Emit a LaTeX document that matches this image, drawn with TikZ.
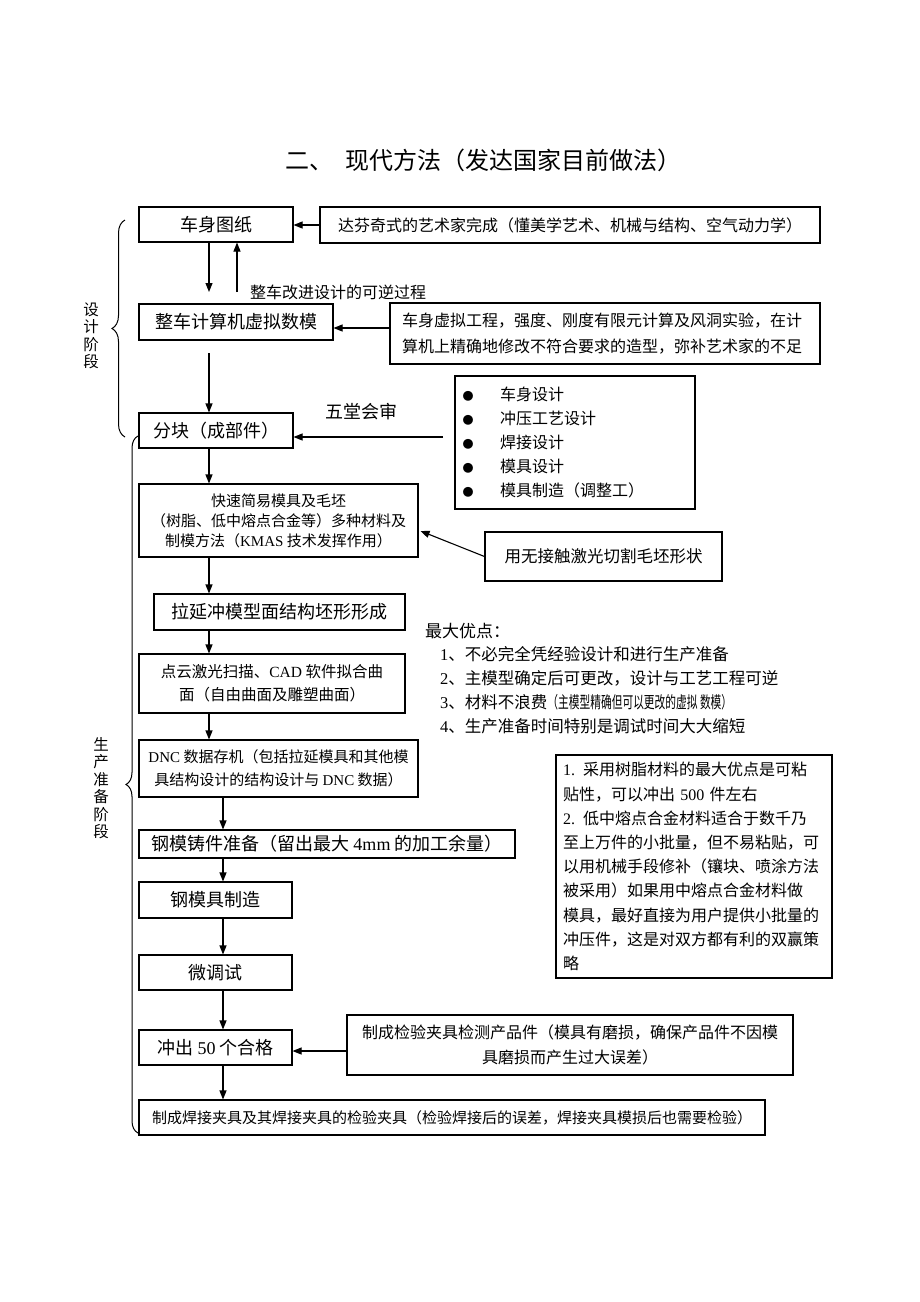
\documentclass[tikz,border=0pt]{standalone}
\usepackage{fontspec}
\usepackage{graphicx}
\setmainfont{Noto Sans CJK SC}
\newfontfamily\lat{Liberation Serif}
\newcommand\bul{\makebox[16pt][c]{\fontsize{11}{11}\selectfont ●}}
\usetikzlibrary{arrows.meta,decorations.pathreplacing,calc}
\begin{document}
\begin{tikzpicture}[x=1pt,y=-1pt,
  box/.style={draw, line width=1.1pt, inner sep=0pt, align=center},
  arr/.style={line width=1.1pt, -{Triangle[length=9pt,width=7pt]}},
  brc/.style={line width=1pt, decorate, decoration={brace}},
  plain/.style={inner sep=0pt}]
\fill[white] (0,0) rectangle (920,1302);
\useasboundingbox (0,0) rectangle (920,1302);

% title
\node[plain, anchor=west, font=\fontsize{24}{28}\selectfont] (title) at (285,160) {二、\hspace{12pt}现代方法（发达国家目前做法）};

% design stage
\node[box, minimum width=154pt, minimum height=35pt, font=\fontsize{18}{22}\selectfont] (b1) at (216,224.5) {车身图纸};
\node[box, minimum width=500pt, minimum height=36pt, font=\fontsize{16}{20}\selectfont] (n1) at (570,225) {达芬奇式的艺术家完成（懂美学艺术、机械与结构、空气动力学）};
\node[box, minimum width=194pt, minimum height=36pt, font=\fontsize{18}{22}\selectfont] (b2) at (236,322) {整车计算机虚拟数模};
\node[box, minimum width=430pt, minimum height=61pt, text width=406pt, align=left, font=\fontsize{16}{26}\selectfont] (n2) at (605,333.5) {车身虚拟工程，强度、刚度有限元计算及风洞实验，在计\\算机上精确地修改不符合要求的造型，弥补艺术家的不足};
\node[plain, anchor=west, font=\fontsize{16}{20}\selectfont] (rev) at (250,292) {整车改进设计的可逆过程};
\node[box, minimum width=154pt, minimum height=35pt, font=\fontsize{18}{22}\selectfont] (b3) at (216,430.5) {分块（成部件）};
\node[plain, font=\fontsize{18}{22}\selectfont] (wt) at (361,412) {五堂会审};
\node[box, minimum width=240pt, minimum height=133pt, text width=230pt, align=left, font=\fontsize{16}{24}\selectfont] (lst) at (575,442.5)
  {\bul\hspace{24pt}车身设计\\\bul\hspace{24pt}冲压工艺设计\\\bul\hspace{24pt}焊接设计\\\bul\hspace{24pt}模具设计\\\bul\hspace{24pt}模具制造（调整工）};

% production stage
\node[box, minimum width=279pt, minimum height=73pt, font=\fontsize{15}{20}\selectfont] (b4) at (278.5,520.5)
  {快速简易模具及毛坯\\（树脂、低中熔点合金等）多种材料及\\制模方法（{\lat KMAS} 技术发挥作用）};
\node[box, minimum width=237pt, minimum height=49pt, font=\fontsize{16.5}{20}\selectfont] (n4) at (603.5,556.5) {用无接触激光切割毛坯形状};
\node[box, minimum width=251pt, minimum height=36pt, font=\fontsize{18}{22}\selectfont] (b5) at (279.5,612) {拉延冲模型面结构坯形形成};
\node[box, minimum width=266pt, minimum height=59pt, font=\fontsize{15.5}{23}\selectfont] (b6) at (272,683.5)
  {点云激光扫描、{\lat CAD} 软件拟合曲\\面（自由曲面及雕塑曲面）};
\node[box, minimum width=279pt, minimum height=57pt, font=\fontsize{15}{23}\selectfont] (b7) at (278.5,768.5)
  {{\lat DNC} 数据存机（包括拉延模具和其他模\\具结构设计的结构设计与 {\lat DNC} 数据）};
\node[box, minimum width=376pt, minimum height=28pt, font=\fontsize{18}{22}\selectfont] (b8) at (327,844) {钢模铸件准备（留出最大 {\lat 4mm} 的加工余量）};
\node[box, minimum width=153pt, minimum height=36pt, font=\fontsize{18}{22}\selectfont] (b9) at (215.5,900) {钢模具制造};
\node[box, minimum width=153pt, minimum height=35pt, font=\fontsize{18}{22}\selectfont] (b10) at (215.5,972.5) {微调试};
\node[box, minimum width=153pt, minimum height=35pt, font=\fontsize{18}{22}\selectfont] (b11) at (215.5,1047.5) {冲出 {\lat 50} 个合格};
\node[box, minimum width=446pt, minimum height=60pt, font=\fontsize{16}{25}\selectfont] (n11) at (570,1045)
  {制成检验夹具检测产品件（模具有磨损，确保产品件不因模\\具磨损而产生过大误差）};
\node[box, minimum width=626pt, minimum height=35pt, font=\fontsize{15}{20}\selectfont] (b12) at (452,1117.5)
  {制成焊接夹具及其焊接夹具的检验夹具（检验焊接后的误差，焊接夹具模损后也需要检验）};

% advantages
\node[plain, anchor=west, font=\fontsize{17}{20}\selectfont] (adv) at (425,631) {最大优点：};
\node[plain, anchor=west, font=\fontsize{16.5}{20}\selectfont] (a1) at (440,654) {{\lat 1}、不必完全凭经验设计和进行生产准备};
\node[plain, anchor=west, font=\fontsize{16.5}{20}\selectfont] (a2) at (440,678) {{\lat 2}、主模型确定后可更改，设计与工艺工程可逆};
\node[plain, anchor=west, font=\fontsize{16.5}{20}\selectfont] (a3) at (440,702) {{\lat 3}、材料不浪费\scalebox{0.65}[1]{（主模型精确但可以更改的虚拟 数模）}};
\node[plain, anchor=west, font=\fontsize{16.5}{20}\selectfont] (a4) at (440,726) {{\lat 4}、生产准备时间特别是调试时间大大缩短};

% note
\node[box, minimum width=276pt, minimum height=223pt, text width=262pt, align=left, font=\fontsize{16}{24.2}\selectfont] (note) at (694,866.5)
  {{\lat 1.} 采用树脂材料的最大优点是可粘\\
   贴性，可以冲出 {\lat 500} 件左右\\
   {\lat 2.} 低中熔点合金材料适合于数千乃\\
   至上万件的小批量，但不易粘贴，可\\
   以用机械手段修补（镶块、喷涂方法\\
   被采用）如果用中熔点合金材料做\\
   模具，最好直接为用户提供小批量的\\
   冲压件，这是对双方都有利的双赢策\\
   略};

% side labels
\node[plain, align=center, font=\fontsize{15.5}{17.5}\selectfont] (ds) at (91,336) {设\\计\\阶\\段};
\node[plain, align=center, font=\fontsize{15.5}{17.5}\selectfont] (ps) at (101,788) {生\\产\\准\\备\\阶\\段};

% braces
\draw[brc, decoration={brace, amplitude=13pt}] (125,437) -- (125,220);
\draw[brc, decoration={brace, amplitude=12pt}] (138,1133) -- (138,436);

% connectors
\coordinate (c1) at (209,292);
\coordinate (c2) at (237,292);
\coordinate (c3) at (209,353);
\coordinate (c4) at (223,0);
\coordinate (y2) at (0,328);
\coordinate (c5) at (443,437);
\coordinate (y4) at (0,531);
\coordinate (y11) at (0,1051);

\draw[arr] (n1.west) -- (b1.east |- n1.west);
\draw[arr] (b1.south -| c1) -- (c1);
\draw[arr] (c2) -- (b1.south -| c2);
\draw[arr] (n2.west |- y2) -- (b2.east |- y2);
\draw[arr] (c3) -- (b3.north -| c3);
\draw[arr] (c5) -- (b3.east |- c5);
\draw[arr] (b3.south -| c3) -- (b4.north -| c3);
\draw[arr] (n4.west) -- ($(b4.east |- y4)+(2,0)$);
\draw[arr] (b4.south -| c3) -- (b5.north -| c3);
\draw[arr] (b5.south -| c3) -- (b6.north -| c3);
\draw[arr] (b6.south -| c3) -- (b7.north -| c3);
\draw[arr] (b7.south -| c4) -- (b8.north -| c4);
\draw[arr] (b8.south -| c4) -- (b9.north -| c4);
\draw[arr] (b9.south -| c4) -- (b10.north -| c4);
\draw[arr] (b10.south -| c4) -- (b11.north -| c4);
\draw[arr] (n11.west |- y11) -- (b11.east |- y11);
\draw[arr] (b11.south -| c4) -- (b12.north -| c4);
\end{tikzpicture}
\end{document}
